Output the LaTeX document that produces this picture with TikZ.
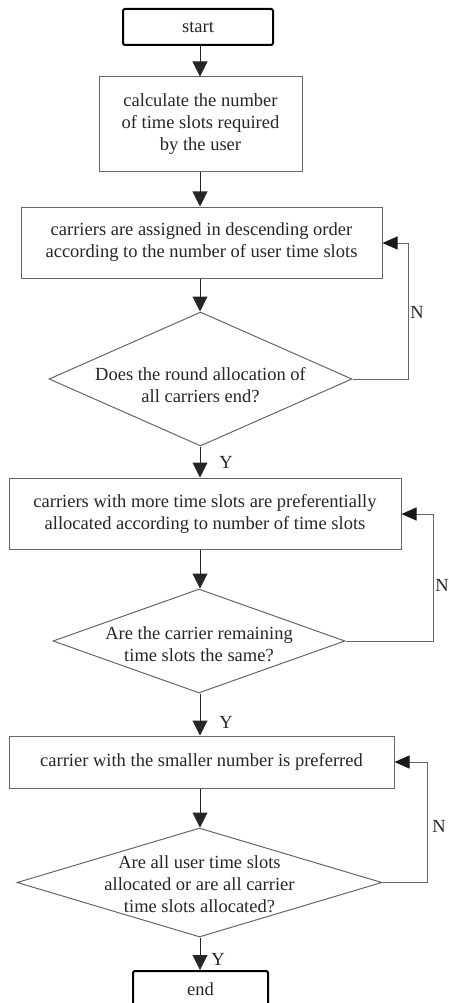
\documentclass[tikz,border=0pt]{standalone}
\usepackage{fontspec}
\setmainfont{Liberation Serif}
\usetikzlibrary{arrows.meta,shapes.geometric}
\begin{document}
\begin{tikzpicture}[x=1pt,y=-1pt,
  every node/.style={font=\fontsize{18.5}{22}\selectfont, text=black!85},
  proc/.style={draw=black!60, line width=1pt, inner sep=0pt, align=center},
  term/.style={draw=black, line width=2pt, rounded corners=2pt, inner sep=0pt},
  dec/.style={draw=black!60, line width=1pt, diamond, inner sep=0pt},
  txt/.style={inner sep=0pt, align=center},
  flow/.style={draw=black!85, line width=1pt, -{Triangle[length=15pt,width=15pt]}},
  back/.style={draw=black!60, line width=1pt, -{Triangle[length=15pt,width=13pt,color=black!90]}},
  lbl/.style={inner sep=0pt}]
\useasboundingbox (0,0) rectangle (449,1003);
\clip (0,0) rectangle (449,1003);

% main axis of the flow
\coordinate (ax) at (200,0);

% terminals and process boxes
\node[term, minimum width=150pt, minimum height=36pt] (start) at (198,27) {start};
\node[proc, minimum width=203pt, minimum height=95pt] (calc) at (200.5,124.5)
  {calculate the number\\of time slots required\\by the user};
\node[proc, minimum width=361pt, minimum height=71pt] (assign) at (201.5,242.5)
  {carriers are assigned in descending order\\according to the number of user time slots};
\node[dec, minimum width=303pt, minimum height=134pt] (d1) at (200.5,379) {};
\node[txt] (d1t) at (200.5,385) {Does the round allocation of\\all carriers end?};

\node[proc, minimum width=392pt, minimum height=71pt] (pref) at (205,513.5)
  {carriers with more time slots are preferentially\\allocated according to number of time slots};
\node[dec, minimum width=292pt, minimum height=104pt] (d2) at (199,641) {};
\node[txt] (d2t) at (199,644) {Are the carrier remaining\\time slots the same?};

\node[proc, minimum width=385pt, minimum height=52pt] (small) at (201.5,762)
  {carrier with the smaller number is preferred};
\node[dec, minimum width=365pt, minimum height=109pt] (d3) at (199.5,882.5) {};
\node[txt] (d3t) at (199.5,884) {Are all user time slots\\allocated or are all carrier\\time slots allocated?};

\node[term, minimum width=135pt, minimum height=36pt] (end) at (200.5,989) {end};

% forward connectors
\draw[flow] (start.south -| ax) -- (calc.north -| ax);
\draw[flow] (calc.south -| ax) -- (assign.north -| ax);
\draw[flow] (assign.south -| ax) -- (d1.north -| ax);
\draw[flow] (d1.south -| ax) -- (pref.north -| ax);
\draw[flow] (pref.south -| ax) -- (d2.north -| ax);
\draw[flow] (d2.south -| ax) -- (small.north -| ax);
\draw[flow] (small.south -| ax) -- (d3.north -| ax);
\draw[flow] (d3.south -| ax) -- (end.north -| ax);

% loop-back connectors
\coordinate (r1) at (408,243);
\coordinate (r2) at (433,514);
\coordinate (r3) at (427,762);
\draw[back] (d1.east) -| (r1) -- (r1 -| assign.east);
\draw[back] (d2.east) -| (r2) -- (r2 -| pref.east);
\draw[back] (d3.east) -| (r3) -- (r3 -| small.east);

% branch labels
\node[lbl] (n1) at (417,312) {N};
\node[lbl] (n2) at (442,585) {N};
\node[lbl] (n3) at (439,826) {N};
\node[lbl] (y1) at (226,462) {Y};
\node[lbl] (y2) at (226,722) {Y};
\node[lbl] (y3) at (218,959) {Y};
\end{tikzpicture}
\end{document}
